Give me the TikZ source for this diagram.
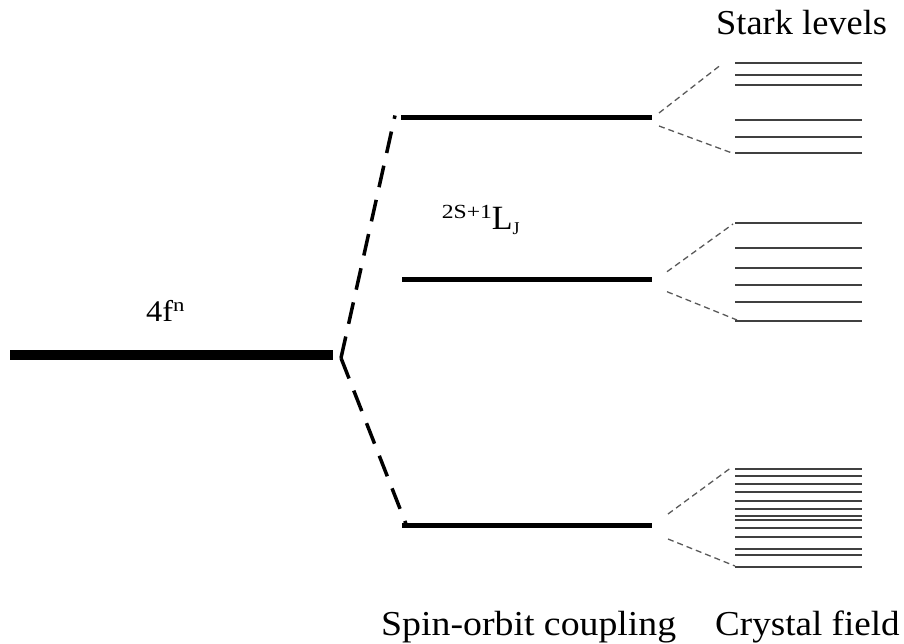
\documentclass[tikz,border=0pt]{standalone}
\usepackage{fontspec}
\setmainfont{Liberation Serif}
\begin{document}
\begin{tikzpicture}[x=1pt,y=-1pt,
  ground/.style={line width=10pt},
  levelline/.style={line width=5pt},
  starkline/.style={line width=1.8pt, draw=black!75},
  split/.style={line width=3.5pt, dash pattern=on 22pt off 13pt},
  cfsplit/.style={line width=1.3pt, draw=black!65, dash pattern=on 6pt off 4pt},
  lbl/.style={inner sep=0pt, anchor=base west, font=\fontsize{35}{40}\selectfont}]
\useasboundingbox (0,0) rectangle (904,644);
% ground term
\coordinate (g0) at (10,354.5);
\coordinate (g1) at (333,354.5);
\draw[ground] (g0) -- (g1);
\node[inner sep=0pt, anchor=base west] (fn) at (146,321.7)
  {\fontsize{30}{32}\selectfont\scalebox{1.08}[1]{4f}\raisebox{10pt}{\fontsize{19}{20}\selectfont\scalebox{1.2}[1]{n}}};
% branch point
\coordinate (b) at (341,358);
\coordinate (u) at (395,115.5);
\coordinate (d) at (406,524);
\draw[split] (b) -- (u);
\draw[split] (b) -- (d);
% J levels
\coordinate (a0) at (401,118); \coordinate (a1) at (652,118);
\coordinate (m0) at (402,279); \coordinate (m1) at (652,279);
\coordinate (c0) at (402,525); \coordinate (c1) at (652,525);
\draw[levelline] (a0) -- (a1);
\draw[levelline] (m0) -- (m1);
\draw[levelline] (c0) -- (c1);
\node[inner sep=0pt, anchor=base west] (lj) at (441.7,230)
  {\raisebox{11.7pt}{\fontsize{20}{22}\selectfont\scalebox{1.18}[1]{2S+1}}\fontsize{34}{36}\selectfont L\raisebox{-5pt}{\fontsize{18}{20}\selectfont J}};
% crystal field splitting, group 1
\coordinate (p1a) at (659,113); \coordinate (p1b) at (659,126);
\coordinate (q1a) at (722,64); \coordinate (q1b) at (732,153);
\draw[cfsplit] (p1a) -- (q1a);
\draw[cfsplit] (p1b) -- (q1b);
\foreach \y in {62.7,75,85,120,136.7,153.3}
  \draw[starkline] (735,\y) -- (862,\y);
% group 2
\coordinate (p2a) at (667,271.7); \coordinate (p2b) at (667,291.7);
\coordinate (q2a) at (733,224); \coordinate (q2b) at (737,320);
\draw[cfsplit] (p2a) -- (q2a);
\draw[cfsplit] (p2b) -- (q2b);
\foreach \y in {223.3,248.3,268.3,285,301.7,320.7}
  \draw[starkline] (735,\y) -- (862,\y);
% group 3
\coordinate (p3a) at (668,514); \coordinate (p3b) at (668,539);
\coordinate (q3a) at (732,467); \coordinate (q3b) at (735,566);
\draw[cfsplit] (p3a) -- (q3a);
\draw[cfsplit] (p3b) -- (q3b);
\foreach \y in {469,475.7,484.3,492.3,501,509,515.7,520.3,528.3,537.3,549.3,554.7,566.7}
  \draw[starkline] (735,\y) -- (862,\y);
% labels
\node[lbl] (stark) at (716,35) {\scalebox{1.04}[1]{Stark levels}};
\node[lbl] (so) at (381,635) {\scalebox{1.08}[1]{Spin-orbit coupling}};
\node[lbl] (cf) at (715,635) {\scalebox{1.06}[1]{Crystal field}};
\end{tikzpicture}
\end{document}
